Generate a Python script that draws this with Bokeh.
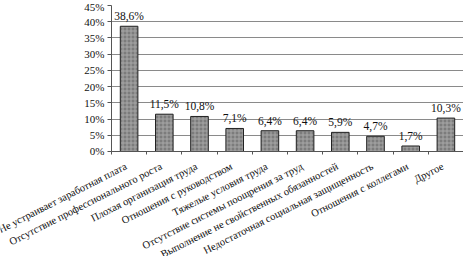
from bokeh.plotting import figure
from bokeh.layouts import column
from bokeh.core.properties import value
from bokeh.models import ColumnDataSource, FixedTicker, Range1d, LabelSet, CustomJSTickFormatter
from bokeh.embed import file_html
from bokeh.resources import INLINE

categories = [
    "Не устраивает заработная плата",
    "Отсутствие профессионального роста",
    "Плохая организация труда",
    "Отношения с руководством",
    "Тяжелые условия труда",
    "Отсутствие системы поощрения за труд",
    "Выполнение не свойственных обязанностей",
    "Недостаточная социальная защищенность",
    "Отношения с коллегами",
    "Другое",
]
values = [38.6, 11.5, 10.8, 7.1, 6.4, 6.4, 5.9, 4.7, 1.7, 10.3]
y_ticks = [0, 5, 10, 15, 20, 25, 30, 35, 40, 45]

# layout (pixels)
W = 463
LEFT = 111
TOP = 5
FRAME_H = 146
AXIS_H = 5
H_MAIN = TOP + FRAME_H + AXIS_H
H_LAB = 256 - H_MAIN
LABEL_DROP = 9
ANGLE = 0.47

n = len(categories)
idx = list(range(n))
labels = [f"{v:.1f}%".replace(".", ",") for v in values]
src = ColumnDataSource(dict(x=idx, top=values, lab=labels))
lab_src = ColumnDataSource(dict(x=idx, cat=categories, y=[-LABEL_DROP] * n))

FONT = "Liberation Serif"
TXT = "#111111"

p = figure(width=W, height=H_MAIN, output_backend="svg", toolbar_location=None,
           x_range=Range1d(-0.5, n - 0.5), y_range=Range1d(0, 45),
           min_border_top=TOP, min_border_right=0, min_border_left=LEFT,
           min_border_bottom=AXIS_H)
p.frame_align = False
p.outline_line_color = None
p.background_fill_color = "white"

p.vbar(x="x", top="top", width=0.5, source=src, fill_color="#7c7c7c",
       line_color="#222222", line_width=1,
       hatch_pattern="+", hatch_color="#a8a8a8", hatch_scale=4, hatch_weight=1)

p.add_layout(LabelSet(x="x", y="top", text="lab", source=src, text_align="center",
                      text_baseline="bottom", y_offset=4, text_font=FONT,
                      text_font_size="11.5px", text_color=TXT))

# y axis
p.yaxis.ticker = FixedTicker(ticks=y_ticks)
p.yaxis.formatter = CustomJSTickFormatter(code="return tick + '%';")
p.yaxis.major_label_text_font = FONT
p.yaxis.major_label_text_font_size = "11px"
p.yaxis.major_label_text_color = TXT
p.yaxis.axis_line_color = "#555555"
p.yaxis.major_tick_line_color = "#555555"
p.yaxis.major_tick_out = 4
p.yaxis.major_tick_in = 0
p.yaxis.minor_tick_line_color = None
p.yaxis.major_label_standoff = 3

# x axis: line + small ticks between categories; labels in the strip below
p.xaxis.ticker = FixedTicker(ticks=idx, minor_ticks=[i + 0.5 for i in [-1] + idx])
p.xaxis.formatter = CustomJSTickFormatter(code="return '';")
p.xaxis.major_label_standoff = 0
p.xaxis.major_tick_line_color = None
p.xaxis.major_tick_out = 0
p.xaxis.minor_tick_line_color = "#555555"
p.xaxis.minor_tick_out = 3
p.xaxis.minor_tick_in = 0
p.xaxis.axis_line_color = "#555555"

p.xgrid.grid_line_color = None
p.ygrid.grid_line_color = "#8a8a8a"
p.ygrid.grid_line_width = 1

# label strip with the same horizontal scale as the main frame
px_per_unit = (W - LEFT) / n
q = figure(width=W, height=H_LAB, output_backend="svg", toolbar_location=None,
           x_range=Range1d(-0.5 - LEFT / px_per_unit, n - 0.5),
           y_range=Range1d(-H_LAB, 0),
           min_border_top=0, min_border_right=0, min_border_left=0, min_border_bottom=0,
           x_axis_location=None, y_axis_location=None)
q.frame_align = False
q.grid.grid_line_color = None
q.outline_line_color = None
q.text(x="x", y="y", text="cat", source=lab_src, angle=ANGLE, text_align="right",
       text_baseline="middle", x_offset=-3, text_font=value(FONT),
       text_font_size="10.5px", text_color=TXT)

layout = column(p, q, spacing=0)
open("out.html", "w").write(file_html(layout, INLINE))
